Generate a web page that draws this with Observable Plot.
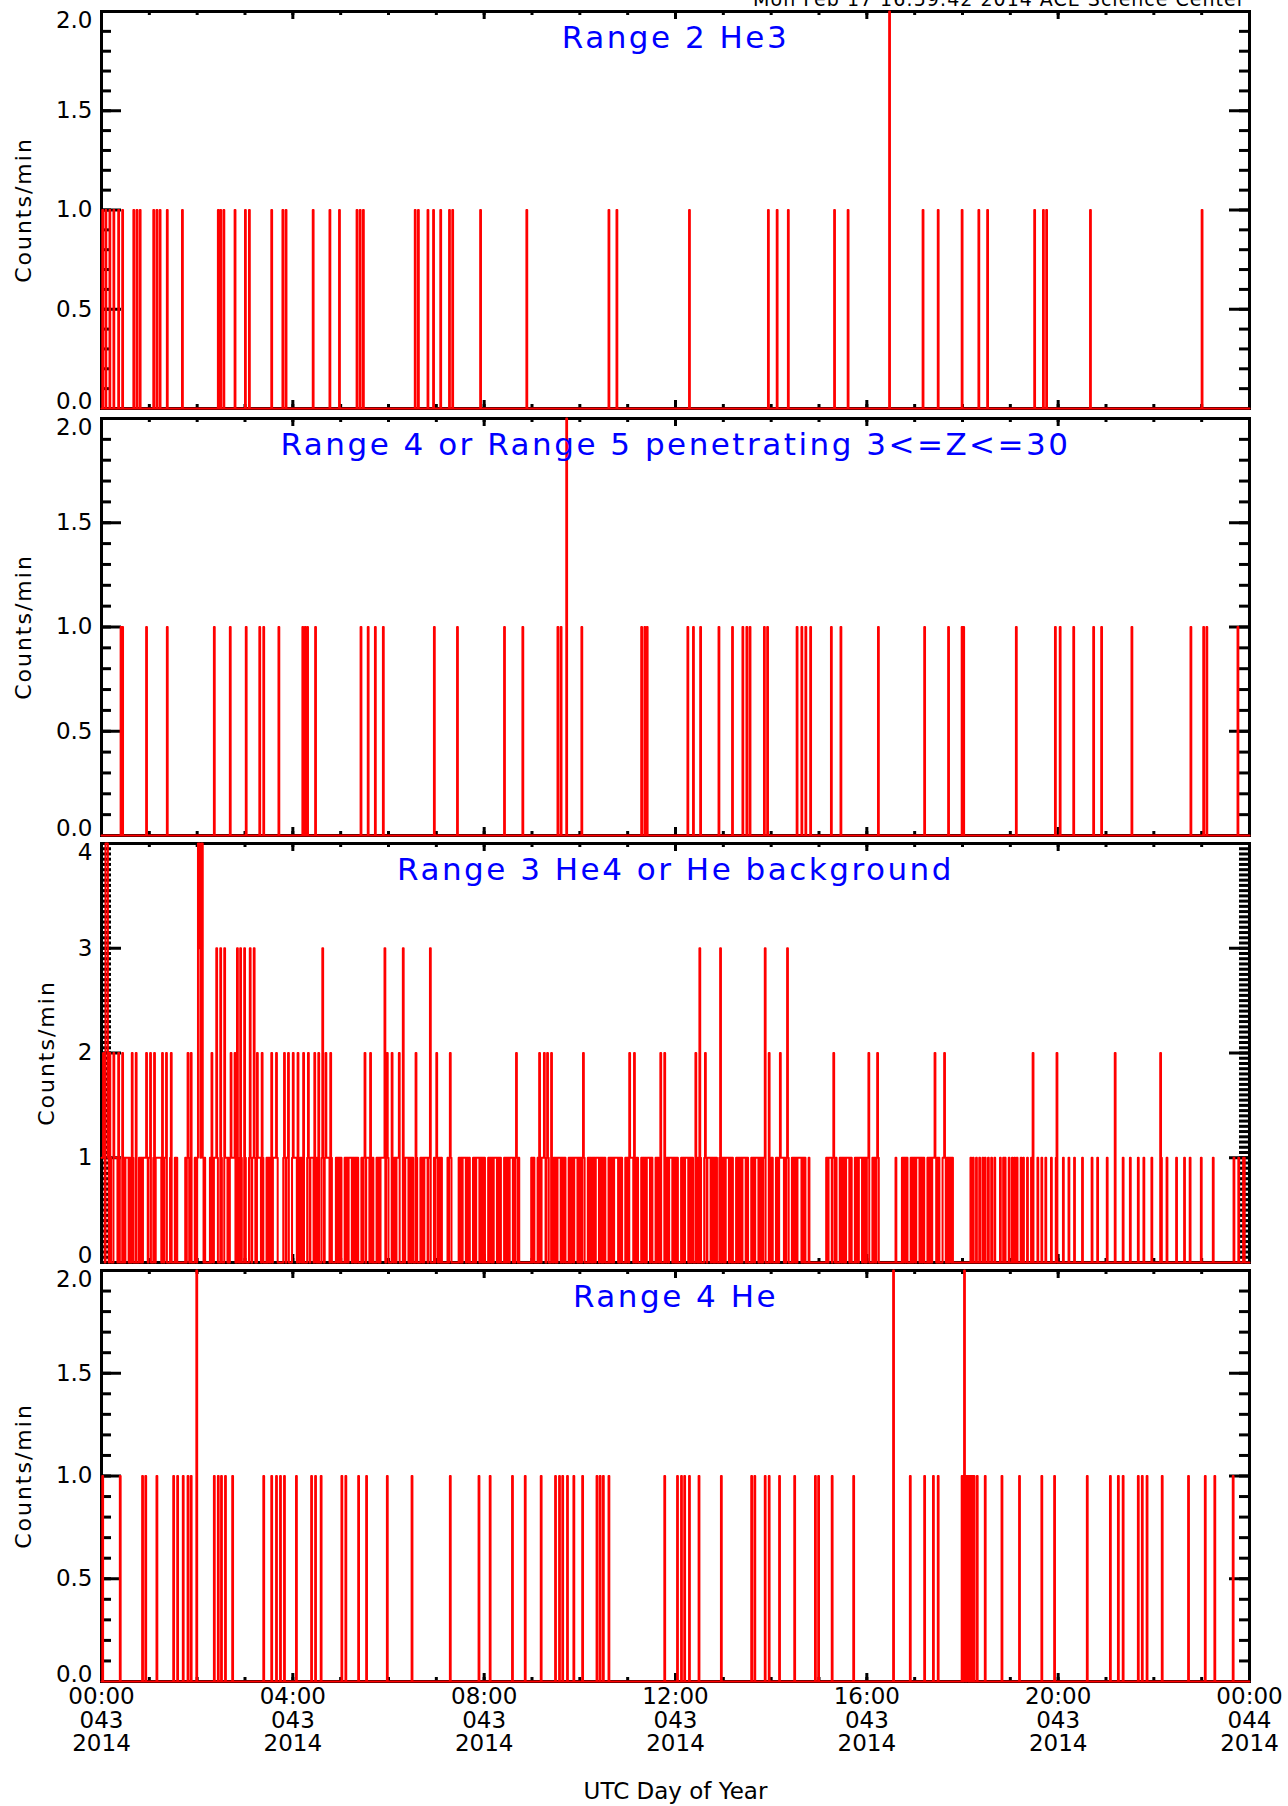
<!DOCTYPE html>
<html><head><meta charset="utf-8">
<script src="https://cdn.jsdelivr.net/npm/d3@7"></script>
<script src="https://cdn.jsdelivr.net/npm/@observablehq/plot@0.6"></script>
<style>
body{margin:0;background:#fff;}
#page{position:relative;width:1288px;height:1806px;overflow:hidden;background:#fff;}
g[font-size="31"]{letter-spacing:2.5px;}
g[font-size="22"]{letter-spacing:2px;}
g[font-size="19"]{letter-spacing:1px;}
</style></head><body><div id="page"></div>
<script>
// ---- data (minute of day 043, counts/min) ----
const rangeTwoHe3 = [[1,1],[5,1],[10,1],[15,1],[21,1],[26,1],[40,1],[44,1],[48,1],[65,1],[69,1],[73,1],[82,1],[101,1],
 [146,1],[149,1],[153,1],[167,1],[180,1],[185,1],[213,1],[227,1],[231,1],[265,1],[286,1],[298,1],[320,1],[324,1],[328,1],
 [393,1],[397,1],[409,1],[416,1],[425,1],[436,1],[440,1],[475,1],[533,1],[636,1],[646,1],[737,1],[836,1],[847,1],[861,1],
 [919,1],[936,1],[988,2],[1030,1],[1049,1],[1079,1],[1100,1],[1111,1],[1170,1],[1181,1],[1185,1],[1240,1],[1380,1]];

const rangeFourFivePen = [[24,1],[26,1],[56,1],[82,1],[141,1],[161,1],[181,1],[198,1],[203,1],[222,1],[252,1],[255,1],[258,1],
 [268,1],[325,1],[334,1],[343,1],[353,1],[417,1],[446,1],[505,1],[528,1],[572,1],[576,1],[583,2],[602,1],[677,1],[681,1],
 [684,1],[735,1],[742,1],[751,1],[774,1],[791,1],[804,1],[809,1],[813,1],[831,1],[835,1],[872,1],[878,1],[883,1],[889,1],
 [915,1],[927,1],[974,1],[1032,1],[1062,1],[1079,1],[1081,1],[1147,1],[1196,1],[1202,1],[1219,1],[1244,1],[1254,1],
 [1292,1],[1366,1],[1382,1],[1386,1],[1425,1]];

// Range 3 He4: one string per hour, one digit per minute
const rangeThreeHe4 = [
 "1121044410"+"2100021111"+"0210002010"+"1111010021"+"0002000110"+"1011112101",
 "1200012011"+"1111102101"+"1200001200"+"0010100000"+"0000010121"+"0120000110",
 "1443144101"+"0000001021"+"0111310003"+"1000311101"+"0121111200"+"3100310003",
 "1000013101"+"1310021111"+"0210000101"+"1012011112"+"1000000012"+"1011200001",
 "2111102101"+"1002000012"+"1011110210"+"1020001310"+"1211110210"+"0000110110",
 "1000010110"+"1111011010"+"1100001011"+"2011110210"+"1000011010"+"1111130121",
 "0000210110"+"1112000031"+"0111101101"+"1000210000"+"1101011110"+"1130000101",
 "2101101000"+"0000101210"+"0000000011"+"0101111011"+"0100001010"+"1111011010",
 "1000010110"+"1011110101"+"1000010101"+"1011110101"+"2101000000"+"0000000001",
 "0110000102"+"1011121012"+"1000210110"+"1011110110"+"1100001010"+"1101111011",
 "0101210000"+"1011010110"+"1111011010"+"1100001011"+"0101111101"+"0110000101",
 "1021111021"+"0110000101"+"1010111101"+"1000010110"+"1200002101"+"1011110110",
 "1010000101"+"1011110110"+"1100021010"+"3100001210"+"1111011010"+"1100013011",
 "0101111011"+"0100001101"+"1010111101"+"1000010110"+"1111011010"+"1130000210",
 "1100001010"+"1211110101"+"3100001011"+"0101111101"+"1010000100"+"0000000000",
 "0000000001"+"1011110121"+"0100001101"+"1010111101"+"1000010110"+"1111011010",
 "1120000101"+"1012100000"+"0000000000"+"0000001000"+"0000101101"+"1000010101",
 "1011110110"+"1100001010"+"1011121010"+"1000011210"+"1010110100"+"0000000000",
 "0000000000"+"1001000100"+"0100010010"+"0010001000"+"1000000100"+"0101000010",
 "0010010010"+"0001001000"+"0100001020"+"0000100001"+"0000100000"+"0100000120",
 "0000001000"+"0001000000"+"1000000000"+"1000000000"+"0010000001"+"0000000000",
 "0100000000"+"0200000000"+"0100000000"+"1000000000"+"1000000100"+"0000000100",
 "0000000021"+"0000001000"+"0000000010"+"0000000010"+"0000010000"+"0000000001",
 "0000000000"+"0000100000"+"0000000000"+"0000000000"+"1000001000"+"0011000000"
];

const rangeFourHe = [[1,1],[23,1],[51,1],[55,1],[69,1],[90,1],[95,1],[102,1],[108,1],[112,1],[119,2],[141,1],[146,1],
 [150,1],[155,1],[164,1],[203,1],[213,1],[219,1],[224,1],[229,1],[244,1],[263,1],[268,1],[275,1],[301,1],[306,1],[322,1],
 [332,1],[358,1],[389,1],[437,1],[473,1],[487,1],[515,1],[531,1],[551,1],[569,1],[574,1],[578,1],[584,1],[592,1],[603,1],
 [621,1],[625,1],[629,1],[636,1],[706,1],[722,1],[727,1],[731,1],[737,1],[749,1],[777,1],[815,1],[819,1],[832,1],[837,1],
 [850,1],[869,1],[895,1],[899,1],[916,1],[943,1],[993,2],[1014,1],[1032,1],[1043,1],[1049,1],[1079,1],[1082,2],[1083,1],
 [1085,1],[1086,1],[1088,1],[1090,1],[1092,1],[1094,1],[1098,1],[1108,1],[1129,1],[1151,1],[1179,1],[1195,1],[1236,1],
 [1265,1],[1275,1],[1281,1],[1300,1],[1305,1],[1311,1],[1330,1],[1363,1],[1384,1],[1396,1],[1419,1]];

const titles = ["Range 2 He3", "Range 4 or Range 5 penetrating 3<=Z<=30", "Range 3 He4 or He background", "Range 4 He"];
const yTitle = "Counts/min";
const xTitle = "UTC Day of Year";
const stamp = "Mon Feb 17 16:59:42 2014 ACE Science Center";
const xMajorTicks = [0, 240, 480, 720, 960, 1200, 1440];
const xMinorTicks = [0,60,120,180,240,300,360,420,480,540,600,660,720,780,840,900,960,1020,1080,1140,1200,1260,1320,1380,1440];
const xTickLabels = ["00:00\n043\n2014","04:00\n043\n2014","08:00\n043\n2014","12:00\n043\n2014","16:00\n043\n2014","20:00\n043\n2014","00:00\n044\n2014"];
const yTicksHalf = [0, 0.5, 1.0, 1.5, 2.0];
const yTicksUnit = [0, 1, 2, 3, 4];

// ---- build ----
const p3Events = [];
rangeThreeHe4.forEach((s, h) => { for (let i = 0; i < s.length; i++) { const v = +s[i]; if (v) p3Events.push([h * 60 + i, v]); } });

function buildSeries(events) {
  const m = new Map(events);
  return d3.range(0, 1441).map(t => ({t, v: m.get(Math.min(t, 1439)) ?? 0}));
}

const W = 1288, FL = 101, FR = 1249;
const page = document.getElementById("page");
const font = "DejaVu Sans, sans-serif";

const panels = [
  {events: rangeTwoHe3, title: titles[0], top: 11, bottom: 408, mt: 11, mb: 4, ymax: 2, major: yTicksHalf, minorStep: 0.1, fmt: d3.format(".1f"), ydx: -78},
  {events: rangeFourFivePen, title: titles[1], top: 418, bottom: 835, mt: 4, mb: 4, ymax: 2, major: yTicksHalf, minorStep: 0.1, fmt: d3.format(".1f"), ydx: -78},
  {events: p3Events, title: titles[2], top: 843, bottom: 1262, mt: 4, mb: 4, ymax: 4, major: yTicksUnit, minorStep: 0.05, fmt: d3.format("d"), ydx: -55},
  {events: rangeFourHe, title: titles[3], top: 1270, bottom: 1681, mt: 4, mb: 125, ymax: 2, major: yTicksHalf, minorStep: 0.1, fmt: d3.format(".1f"), ydx: -78, last: true}
];

panels.forEach((p, idx) => {
  const ph = p.bottom - p.top, pw = FR - FL;
  const n = Math.round(p.ymax / p.minorStep);
  const yMinor = d3.range(0, n + 1).map(i => i * p.minorStep);
  const ymid = p.major.slice(1, -1);
  const tk = {stroke: "black", strokeWidth: 3};
  const marks = [
    Plot.frame({stroke: "black", strokeWidth: 3}),
    Plot.tickY(yMinor, {y: d => d, ...tk, insetRight: pw - 10}),
    Plot.tickY(yMinor, {y: d => d, ...tk, insetLeft: pw - 10}),
    Plot.tickY(p.major, {y: d => d, ...tk, insetRight: pw - 20}),
    Plot.tickY(p.major, {y: d => d, ...tk, insetLeft: pw - 20}),
    Plot.tickX(xMinorTicks, {x: d => d, ...tk, insetBottom: ph - 4}),
    Plot.tickX(xMinorTicks, {x: d => d, ...tk, insetTop: ph - 4}),
    Plot.tickX(xMajorTicks, {x: d => d, ...tk, insetBottom: ph - 8}),
    Plot.tickX(xMajorTicks, {x: d => d, ...tk, insetTop: ph - 8}),
    Plot.line(buildSeries(p.events), {x: "t", y: "v", curve: "step-after", stroke: "#ff0000", strokeWidth: 2}),
    Plot.text([p.major[p.major.length - 1]], {y: d => d, text: d => p.fmt(d), frameAnchor: "left", dx: -9, textAnchor: "end", lineAnchor: "top", fontSize: 23, fill: "black"}),
    Plot.text([p.major[0]], {y: d => d, text: d => p.fmt(d), frameAnchor: "left", dx: -9, textAnchor: "end", lineAnchor: "bottom", fontSize: 23, fill: "black"}),
    Plot.text(ymid, {y: d => d, text: d => p.fmt(d), frameAnchor: "left", dx: -9, textAnchor: "end", lineAnchor: "middle", fontSize: 23, fill: "black"}),
    Plot.text([yTitle], {frameAnchor: "left", dx: p.ydx, rotate: -90, textAnchor: "middle", lineAnchor: "middle", fontSize: 22, fill: "black"}),
    Plot.text([p.title], {frameAnchor: "top", dy: 36, lineAnchor: "bottom", textAnchor: "middle", fontSize: 31, fill: "#0000ff"})
  ];
  if (idx === 0) {
    marks.push(Plot.text([stamp], {frameAnchor: "top-right", dx: -4, dy: -6, textAnchor: "end", lineAnchor: "bottom", fontSize: 19, fill: "black"}));
  }
  if (p.last) {
    marks.push(Plot.text(xMajorTicks, {x: d => d, text: (d, i) => xTickLabels[i], frameAnchor: "bottom", dy: 6, lineAnchor: "top", lineHeight: 1.02, textAnchor: "middle", fontSize: 23, fill: "black"}));
    marks.push(Plot.text([xTitle], {frameAnchor: "bottom", dy: 117, lineAnchor: "bottom", textAnchor: "middle", fontSize: 23, fill: "black"}));
  }
  const svg = Plot.plot({
    width: W, height: ph + p.mt + p.mb,
    marginLeft: FL, marginRight: W - FR, marginTop: p.mt, marginBottom: p.mb,
    x: {domain: [0, 1440], axis: null},
    y: {domain: [0, p.ymax], axis: null},
    style: {background: "transparent", overflow: "visible", fontFamily: font},
    marks
  });
  svg.style.position = "absolute";
  svg.style.left = "0px";
  svg.style.top = (p.top - p.mt) + "px";
  page.appendChild(svg);
});
</script></body></html>
